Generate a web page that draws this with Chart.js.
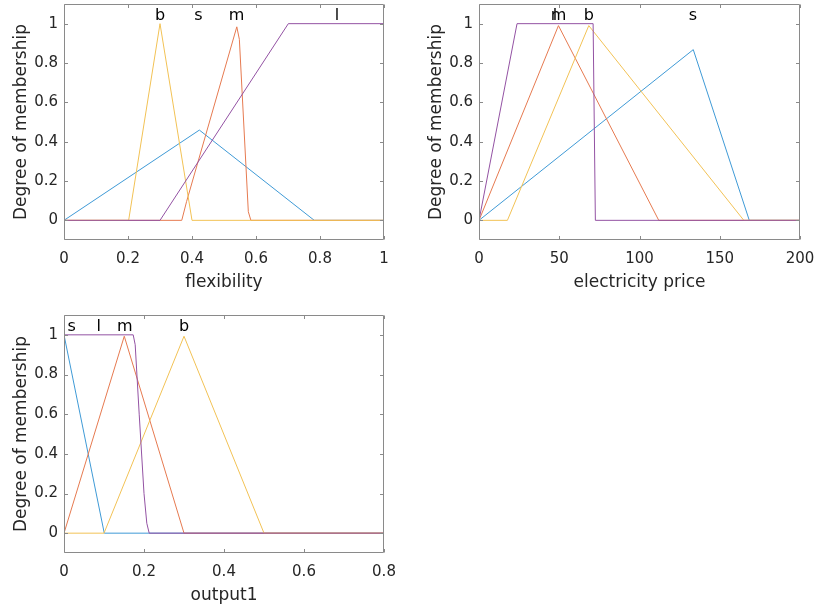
<!DOCTYPE html>
<html><head><meta charset="utf-8">
<script src="https://cdn.jsdelivr.net/npm/chart.js@4/dist/chart.umd.min.js"></script>
<style>
html,body{margin:0;padding:0;background:#fff;overflow:hidden}
#wrap{position:relative;width:815px;height:608px;background:#fff}
canvas{position:absolute}
</style></head><body>
<div id="wrap">
<canvas id="c1" width="400" height="300" style="left:0;top:0"></canvas>
<canvas id="c2" width="400" height="300" style="left:415px;top:0"></canvas>
<canvas id="c3" width="400" height="303" style="left:0;top:305px"></canvas>
</div>
<script>
// ---------- data ----------
const yTicks = [0, 0.2, 0.4, 0.6, 0.8, 1];
const mfNames = ['s', 'm', 'b', 'l'];

// subplot 1: flexibility
const flexTicks = [0, 0.2, 0.4, 0.6, 0.8, 1];
const flexS_x = [0, 0.423, 0.782, 1];
const flexS_y = [0, 0.459, 0, 0];
const flexM_x = [0, 0.368, 0.383, 0.540, 0.548, 0.576, 0.584, 1];
const flexM_y = [0, 0, 0.095, 0.984, 0.92, 0.044, 0, 0];
const flexB_x = [0, 0.202, 0.300, 0.400, 1];
const flexB_y = [0, 0, 1, 0, 0];
const flexL_x = [0, 0.300, 0.701, 1];
const flexL_y = [0, 0, 1, 1];
const flexLabelX = [0.42, 0.539, 0.30, 0.853]; // s, m, b, l

// subplot 2: electricity price
const priceTicks = [0, 50, 100, 150, 200];
const priceS_x = [0, 133.5, 168.4, 200];
const priceS_y = [0, 0.868, 0, 0];
const priceM_x = [0, 49.5, 112, 200];
const priceM_y = [0, 0.99, 0, 0];
const priceB_x = [0, 17.7, 68.4, 165, 200];
const priceB_y = [0, 0, 0.99, 0, 0];
const priceL_x = [0, 23.7, 71.1, 72.5, 200];
const priceL_y = [0, 1, 1, 0, 0];
const priceLabelX = [133.3, 49.5, 68.4, 47.4]; // s, m, b, l

// subplot 3: output1
const outTicks = [0, 0.2, 0.4, 0.6, 0.8];
const outS_x = [0, 0.1007, 0.8];
const outS_y = [1, 0, 0];
const outM_x = [0, 0.1507, 0.300, 0.8];
const outM_y = [0, 0.993, 0, 0];
const outB_x = [0, 0.1, 0.300, 0.500, 0.8];
const outB_y = [0, 0, 0.993, 0, 0];
const outL_x = [0, 0.173, 0.178, 0.188, 0.200, 0.207, 0.213, 0.8];
const outL_y = [1, 1, 0.95, 0.6, 0.2, 0.05, 0, 0];
const outLabelX = [0.019, 0.152, 0.300, 0.087]; // s, m, b, l

// ---------- style ----------
const COLORS = ['#3f9ad6', '#e67a50', '#f2c255', '#9352a3'];
const AXIS_COLOR = '#8a8a8a';
const TEXT_COLOR = '#262626';
const FONT = 'DejaVu Sans';

function pts(xs, ys) { return xs.map((x, i) => ({x: x, y: ys[i]})); }
function fmt(v) { return String(Number(v.toFixed(6))); }

const matlabAxes = {
  id: 'matlabAxes',
  afterDatasetsDraw(chart, args, opts) {
    const {ctx, chartArea: a, scales: {x, y}} = chart;
    ctx.save();
    ctx.strokeStyle = AXIS_COLOR;
    ctx.lineWidth = 1;
    const L = Math.round(a.left) + 0.5, R = Math.round(a.right) - 0.5;
    const T = Math.round(a.top) + 0.5, B = Math.round(a.bottom) - 0.5;
    ctx.beginPath();
    ctx.rect(L, T, R - L, B - T);
    const tl = 3.5;
    opts.xTicks.forEach(v => {
      const px = Math.round(x.getPixelForValue(v)) + 0.5;
      ctx.moveTo(px, B); ctx.lineTo(px, B - tl);
      ctx.moveTo(px, T); ctx.lineTo(px, T + tl);
    });
    yTicks.forEach(v => {
      const py = Math.round(y.getPixelForValue(v)) + 0.5;
      ctx.moveTo(L, py); ctx.lineTo(L + tl, py);
      ctx.moveTo(R, py); ctx.lineTo(R - tl, py);
    });
    ctx.stroke();
    ctx.fillStyle = '#000';
    ctx.font = '16px "' + FONT + '"';
    ctx.textAlign = 'center';
    ctx.textBaseline = 'alphabetic';
    const ly = y.getPixelForValue(1.018);
    opts.labelX.forEach((v, i) => {
      ctx.fillText(mfNames[i], x.getPixelForValue(v), ly);
    });
    ctx.restore();
  }
};

function makeChart(id, series, xTicks, xMax, xTitle, labelX, pad, xH, titleBottom) {
  const datasets = series.map((s, i) => ({
    data: pts(s[0], s[1]),
    borderColor: COLORS[i],
    borderWidth: 1,
    pointRadius: 0,
    tension: 0,
    fill: false,
    order: 4 - i
  }));
  return new Chart(document.getElementById(id), {
    type: 'line',
    data: {datasets},
    plugins: [matlabAxes],
    options: {
      responsive: false,
      animation: false,
      devicePixelRatio: 1,
      layout: {padding: pad},
      plugins: {
        legend: {display: false},
        tooltip: {enabled: false},
        matlabAxes: {xTicks: xTicks, labelX: labelX}
      },
      scales: {
        x: {
          type: 'linear', min: xTicks[0], max: xMax,
          grid: {display: false, drawTicks: false},
          border: {display: false},
          afterBuildTicks: s => { s.ticks = xTicks.map(v => ({value: v})); },
          afterFit: s => { s.height = xH; s.paddingLeft = 0; s.paddingRight = 0; },
          ticks: {
            autoSkip: false, maxRotation: 0, padding: 10,
            color: TEXT_COLOR, font: {family: FONT, size: 15},
            callback: v => fmt(v)
          },
          title: {
            display: true, text: xTitle, color: TEXT_COLOR,
            font: {family: FONT, size: 17, lineHeight: 1.2},
            padding: {top: 0, bottom: titleBottom}
          }
        },
        y: {
          type: 'linear', min: -0.1, max: 1.1,
          grid: {display: false, drawTicks: false},
          border: {display: false},
          afterBuildTicks: s => { s.ticks = yTicks.map(v => ({value: v})); },
          afterFit: s => { s.width = 64; s.paddingTop = 0; s.paddingBottom = 0; },
          ticks: {
            autoSkip: false, padding: 6,
            color: TEXT_COLOR, font: {family: FONT, size: 15},
            callback: v => fmt(v)
          },
          title: {
            display: true, text: 'Degree of membership', color: TEXT_COLOR,
            font: {family: FONT, size: 17, lineHeight: 1.2},
            padding: {top: 11, bottom: 0}
          }
        }
      }
    }
  });
}

makeChart('c1',
  [[flexS_x, flexS_y], [flexM_x, flexM_y], [flexB_x, flexB_y], [flexL_x, flexL_y]],
  flexTicks, 1, 'flexibility', flexLabelX,
  {top: 4, right: 16, left: 0, bottom: 0}, 60, 7);

makeChart('c2',
  [[priceS_x, priceS_y], [priceM_x, priceM_y], [priceB_x, priceB_y], [priceL_x, priceL_y]],
  priceTicks, 200, 'electricity price', priceLabelX,
  {top: 4, right: 15, left: 0, bottom: 0}, 60, 7);

makeChart('c3',
  [[outS_x, outS_y], [outM_x, outM_y], [outB_x, outB_y], [outL_x, outL_y]],
  outTicks, 0.8, 'output1', outLabelX,
  {top: 10, right: 16, left: 0, bottom: 0}, 55, 2.5);
</script>
</body></html>
